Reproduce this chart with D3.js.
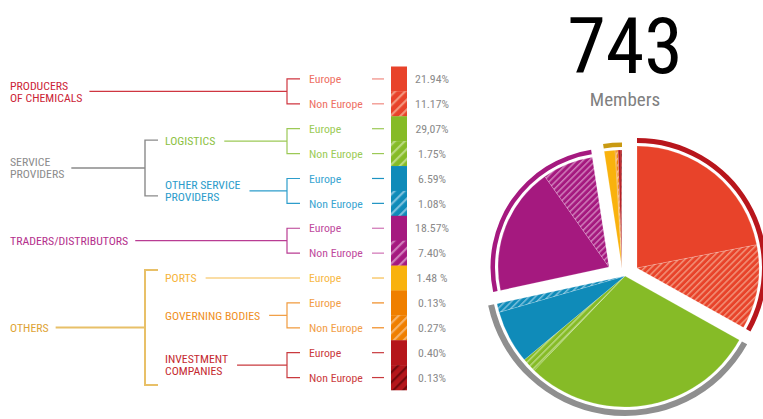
<!DOCTYPE html>
<html><head><meta charset="utf-8">
<script src="https://cdn.jsdelivr.net/npm/d3@7"></script>
<style>
html,body{margin:0;padding:0;background:#fff;}
svg{display:block;}
text{font-family:"Liberation Sans Narrow","Roboto Condensed","DejaVu Sans Condensed",sans-serif;font-stretch:condensed;}
</style></head>
<body>
<svg id="chart" width="763" height="419"></svg>
<script>
// ---------- DATA ----------
const totalMembers = "743";
const membersLabel = "Members";

const rowCategory = ["prod","prod","log","log","osp","osp","trad","trad","ports","gov","gov","inv","inv"];
const rowRegion   = ["Europe","Non Europe","Europe","Non Europe","Europe","Non Europe","Europe","Non Europe","Europe","Europe","Non Europe","Europe","Non Europe"];
const rowValues   = [21.94, 11.17, 29.07, 1.75, 6.59, 1.08, 18.57, 7.40, 1.48, 0.13, 0.27, 0.40, 0.13];
const rowLabels   = ["21.94%","11.17%","29,07%","1.75%","6.59%","1.08%","18.57%","7.40%","1.48 %","0.13%","0.27%","0.40%","0.13%"];

const catKeys   = ["prod","log","osp","trad","ports","gov","inv"];
const catLabels = [["PRODUCERS","OF CHEMICALS"],["LOGISTICS"],["OTHER SERVICE","PROVIDERS"],["TRADERS/DISTRIBUTORS"],["PORTS"],["GOVERNING BODIES"],["INVESTMENT","COMPANIES"]];

const topKeys     = ["producers","service","traders","others"];
const topLabels   = [["PRODUCERS","OF CHEMICALS"],["SERVICE","PROVIDERS"],["TRADERS/DISTRIBUTORS"],["OTHERS"]];
const topChildren = [["prod"],["log","osp"],["trad"],["ports","gov","inv"]];

// ---------- STYLE ----------
const catStyle = {
  prod:  {fill:"#e8432a", stripe:"#f2937a", label:"#cc2336", text:"#ee7064", line:"#cf3640", dash:"#f08a80"},
  log:   {fill:"#86bb27", stripe:"#b9d97f", label:"#8cc13f", text:"#9ccb57", line:"#9cc956", dash:"#9cc956"},
  osp:   {fill:"#0f8bb9", stripe:"#79bedb", label:"#2c9ccb", text:"#3aa5d1", line:"#2d9dcb", dash:"#1c93c2"},
  trad:  {fill:"#a5197f", stripe:"#cf7dba", label:"#b42f8c", text:"#c04a9d", line:"#b93c93", dash:"#cf72b4"},
  ports: {fill:"#f9b20d", stripe:"#fbd26e", label:"#f6b43a", text:"#f7b846", line:"#f6bc4d", dash:"#f7bd4f"},
  gov:   {fill:"#ef7f00", stripe:"#f5b269", label:"#ef8f24", text:"#f29e47", line:"#f19b3e", dash:"#f08a1f"},
  inv:   {fill:"#b5161b", stripe:"#730a0d", label:"#c52a30", text:"#cb3c40", line:"#c93a3e", dash:"#c83a3e"}
};
const topStyle = {
  producers:{label:"#cc2336", line:"#cf3640", ring:"#b8161c", dx:11, dy:-6, r:122, ring0:3, ring1:8},
  service:  {label:"#8c8c8c", line:"#8a8a8a", ring:"#8f8f8f", dx:-1, dy:2,  r:131, ring0:3, ring1:9},
  traders:  {label:"#b42f8c", line:"#b93c93", ring:"#a5197f", dx:-17,dy:-7, r:111, ring0:3, ring1:7.5},
  others:   {label:"#dea334", line:"#e8c068", ring:"#c99a12", dx:-4, dy:-6, r:118, ring0:3, ring1:7.5}
};
const bracketPad = {service:[-1,5], others:[-8,20]};

const svg = d3.select("#chart");
const defs = svg.append("defs");
const FS = 11.8;
const LH = 12.2;

// hatch patterns
catKeys.forEach(k => {
  const s = catStyle[k];
  [["sw",7,2.2],["pie",4.5,1.5]].forEach(([tag,size,w]) => {
    const p = defs.append("pattern").attr("id",`h-${tag}-${k}`).attr("patternUnits","userSpaceOnUse")
      .attr("width",size).attr("height",size).attr("patternTransform","rotate(45)");
    p.append("rect").attr("width",size).attr("height",size).attr("fill",s.fill);
    p.append("rect").attr("x",0).attr("y",0).attr("width",w).attr("height",size).attr("fill",s.stripe);
  });
});

// ---------- LEFT TABLE ----------
const y = d3.scaleBand().domain(d3.range(rowValues.length)).range([66.5, 390]).padding(0);
const rowY = i => y(i) + y.bandwidth()/2;

const X = {top:10, topBr:145, topTick:158, cat:165, br:287, tick:300, region:309, dash0:372, dash1:384, sw0:391, sw1:407, pct:432};

const catY = {};
catKeys.forEach(k => {
  const idx = d3.range(rowCategory.length).filter(i => rowCategory[i] === k);
  catY[k] = {y:(rowY(idx[0]) + rowY(idx[idx.length-1]))/2, rows:idx};
});

const gL = svg.append("g");

function multiLine(g, x, cy, lines, color, size) {
  const t = g.append("text").attr("x",x).attr("fill",color).attr("font-size",size);
  lines.forEach((ln,j) => {
    t.append("tspan").attr("x",x).attr("y", cy + (j - (lines.length-1)/2)*LH).attr("dy","0.36em").text(ln);
  });
  return t;
}

// rows
rowValues.forEach((v,i) => {
  const s = catStyle[rowCategory[i]];
  const cy = rowY(i);
  gL.append("text").attr("x",X.region).attr("y",cy).attr("dy","0.36em").attr("font-size",FS)
    .attr("fill",s.text).text(rowRegion[i]);
  gL.append("line").attr("x1",X.dash0).attr("x2",X.dash1).attr("y1",cy).attr("y2",cy)
    .attr("stroke",s.dash).attr("stroke-width",1.2);
  gL.append("rect").attr("x",X.sw0).attr("y",y(i)).attr("width",X.sw1-X.sw0).attr("height",y.bandwidth()+0.3)
    .attr("fill", rowRegion[i]==="Europe" ? s.fill : `url(#h-sw-${rowCategory[i]})`);
  gL.append("text").attr("x",X.pct).attr("y",cy).attr("dy","0.36em").attr("text-anchor","middle")
    .attr("font-size",FS).attr("fill","#8a8a8a").text(rowLabels[i]);
});

// category brackets
catKeys.forEach(k => {
  const s = catStyle[k], c = catY[k];
  const rows = c.rows;
  if (rows.length > 1) {
    const y0 = rowY(rows[0]), y1 = rowY(rows[rows.length-1]);
    gL.append("path").attr("d",`M${X.tick},${y0}H${X.br}V${y1}H${X.tick}`)
      .attr("fill","none").attr("stroke",s.line).attr("stroke-width",1.2);
  }
});

// top-level & category labels
topKeys.forEach((tk,ti) => {
  const ts = topStyle[tk];
  const kids = topChildren[ti];
  if (kids.length === 1) {
    const c = catY[kids[0]];
    const t = multiLine(gL, X.top, c.y, topLabels[ti], ts.label, FS);
    const w = d3.max(t.selectAll("tspan").nodes(), n => n.getComputedTextLength());
    gL.append("line").attr("x1",X.top+w+7).attr("x2",X.br).attr("y1",c.y).attr("y2",c.y)
      .attr("stroke",ts.line).attr("stroke-width",1.2);
  } else {
    kids.forEach(k => {
      const s = catStyle[k], c = catY[k];
      const ci = catKeys.indexOf(k);
      const t = multiLine(gL, X.cat, c.y, catLabels[ci], s.label, FS);
      const w = d3.max(t.selectAll("tspan").nodes(), n => n.getComputedTextLength());
      const xEnd = c.rows.length > 1 ? X.br : X.tick;
      gL.append("line").attr("x1",X.cat+w+9).attr("x2",xEnd).attr("y1",c.y).attr("y2",c.y)
        .attr("stroke",s.line).attr("stroke-width",1.2);
    });
    const pad = bracketPad[tk];
    const b0 = catY[kids[0]].y + pad[0], b1 = catY[kids[kids.length-1]].y + pad[1];
    const mid = (b0+b1)/2;
    gL.append("path").attr("d",`M${X.topTick},${b0}H${X.topBr}V${b1}H${X.topTick}`)
      .attr("fill","none").attr("stroke",ts.line).attr("stroke-width", tk==="others"?2:1.4);
    const t = multiLine(gL, X.top, mid, topLabels[ti], ts.label, FS);
    const w = d3.max(t.selectAll("tspan").nodes(), n => n.getComputedTextLength());
    gL.append("line").attr("x1",X.top+w+7).attr("x2",X.topBr).attr("y1",mid).attr("y2",mid)
      .attr("stroke",ts.line).attr("stroke-width", tk==="others"?2:1.4);
  }
});

// ---------- HEADLINE ----------
svg.append("text").attr("x",625).attr("y",73).attr("text-anchor","middle").attr("font-size",78)
  .attr("fill","#000").text(totalMembers);
svg.append("text").attr("x",625).attr("y",106).attr("text-anchor","middle").attr("font-size",19)
  .attr("fill","#808080").text(membersLabel);

// ---------- PIE ----------
const C = {x:626, y:274};
const pie = d3.pie().sort(null).value(d => d.v).startAngle(0).endAngle(2*Math.PI);
const rowsData = rowValues.map((v,i) => ({v, cat:rowCategory[i], region:rowRegion[i]}));
const arcs = pie(rowsData);
const catTop = {};
topChildren.forEach((kids,ti) => kids.forEach(k => catTop[k] = topKeys[ti]));

const gP = svg.append("g").attr("transform",`translate(${C.x},${C.y})`);
topKeys.forEach(tk => {
  const ts = topStyle[tk];
  const mine = arcs.filter(a => catTop[a.data.cat] === tk);
  const g = gP.append("g").attr("transform",`translate(${ts.dx},${ts.dy})`);
  const arc = d3.arc().innerRadius(0).outerRadius(ts.r);
  g.selectAll("path.slice").data(mine).join("path").attr("class","slice")
    .attr("d",arc)
    .attr("fill", a => a.data.region==="Europe" ? catStyle[a.data.cat].fill : `url(#h-pie-${a.data.cat})`)
    .attr("stroke","rgba(255,255,255,0.35)").attr("stroke-width",0.5);
  const a0 = d3.min(mine, a => a.startAngle), a1 = d3.max(mine, a => a.endAngle);
  g.append("path").attr("d", d3.arc().innerRadius(ts.r+ts.ring0).outerRadius(ts.r+ts.ring1)
      .startAngle(a0).endAngle(a1)())
    .attr("fill", ts.ring);
});
</script>
</body></html>
